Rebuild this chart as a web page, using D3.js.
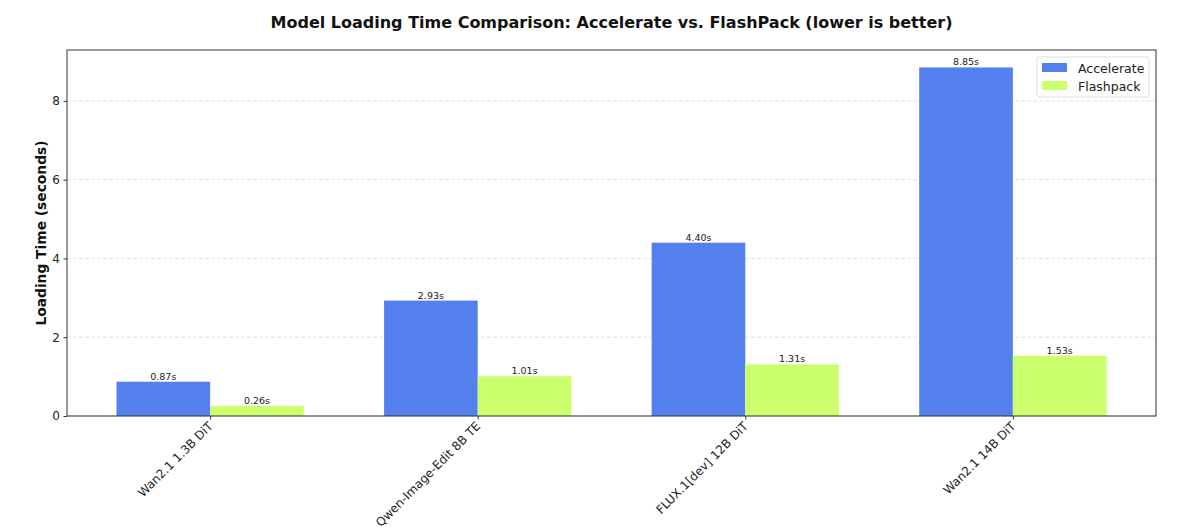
<!DOCTYPE html>
<html>
<head>
<meta charset="utf-8">
<script src="https://cdn.jsdelivr.net/npm/d3@7"></script>
<style>
  body { margin: 0; background: #fff; }
  svg { font-family: "DejaVu Sans", sans-serif; }
</style>
</head>
<body>
<svg id="chart" width="1200" height="532"></svg>
<script>
var models = ["Wan2.1 1.3B DiT", "Qwen-Image-Edit 8B TE", "FLUX.1[dev] 12B DiT", "Wan2.1 14B DiT"];
var accelerateTimes = [0.87, 2.93, 4.40, 8.85];
var flashpackTimes = [0.26, 1.01, 1.31, 1.53];
var yTicks = [0, 2, 4, 6, 8];
var seriesNames = ["Accelerate", "Flashpack"];
var seriesColors = ["#5480ED", "#CCFF6E"];

var margin = { left: 67, right: 44, top: 50, bottom: 116 };
var width = 1200, height = 532;
var plotW = width - margin.left - margin.right;
var plotH = height - margin.top - margin.bottom;
var barW = 0.35;

var svg = d3.select("#chart");

// matplotlib style autoscale: 5% margin on x, top = max * 1.05
var xScale = d3.scaleLinear()
    .domain([-barW - 0.185, models.length - 1 + barW + 0.185])
    .range([0, plotW]);
var yScale = d3.scaleLinear()
    .domain([0, d3.max(accelerateTimes) * 1.05])
    .range([plotH, 0]);

var g = svg.append("g").attr("transform", "translate(" + margin.left + "," + margin.top + ")");

// grid
g.selectAll("line.grid")
    .data(yTicks)
    .enter().append("line")
    .attr("class", "grid")
    .attr("x1", 0).attr("x2", plotW)
    .attr("y1", d => yScale(d)).attr("y2", d => yScale(d))
    .attr("stroke", "#d9d9d9")
    .attr("stroke-width", 0.8)
    .attr("stroke-dasharray", "4,2");

var series = [accelerateTimes, flashpackTimes];
series.forEach(function (vals, si) {
    var offset = si === 0 ? -barW : 0;
    g.selectAll("rect.s" + si)
        .data(vals)
        .enter().append("rect")
        .attr("class", "s" + si)
        .attr("x", (d, i) => xScale(i + offset))
        .attr("width", xScale(barW) - xScale(0))
        .attr("y", d => yScale(d))
        .attr("height", d => plotH - yScale(d))
        .attr("fill", seriesColors[si]);

    g.selectAll("text.v" + si)
        .data(vals)
        .enter().append("text")
        .attr("class", "v" + si)
        .attr("x", (d, i) => xScale(i + offset + barW / 2))
        .attr("y", d => yScale(d) - 2)
        .attr("text-anchor", "middle")
        .attr("font-size", 9.5)
        .attr("fill", "#222")
        .text(d => d.toFixed(2) + "s");
});

// y axis
var yAxis = g.append("g")
    .call(d3.axisLeft(yScale).tickValues(yTicks).tickSize(3.5).tickPadding(3.5));
yAxis.select(".domain").remove();
yAxis.selectAll("text").attr("font-size", 12).attr("fill", "#222").attr("font-family", "DejaVu Sans");
yAxis.selectAll("line").attr("stroke", "#333");

// x axis
var xAxis = g.append("g")
    .attr("transform", "translate(0," + plotH + ")")
    .call(d3.axisBottom(xScale).tickValues(d3.range(models.length)).tickFormat(i => models[i]).tickSize(3.5));
xAxis.select(".domain").remove();
xAxis.selectAll("line").attr("stroke", "#333");
xAxis.selectAll("text")
    .attr("font-size", 12)
    .attr("fill", "#222")
    .attr("font-family", "DejaVu Sans")
    .attr("text-anchor", "end")
    .attr("dy", null)
    .attr("y", 0)
    .attr("transform", "translate(3,11) rotate(-45)");

// frame
g.append("rect")
    .attr("width", plotW).attr("height", plotH)
    .attr("fill", "none")
    .attr("stroke", "#333")
    .attr("stroke-width", 1);

// title
svg.append("text")
    .attr("x", margin.left + plotW / 2)
    .attr("y", 28)
    .attr("text-anchor", "middle")
    .attr("font-size", 16)
    .attr("font-weight", "bold")
    .attr("fill", "#111")
    .text("Model Loading Time Comparison: Accelerate vs. FlashPack (lower is better)");

// y label
svg.append("text")
    .attr("transform", "translate(46," + (margin.top + plotH / 2) + ") rotate(-90)")
    .attr("text-anchor", "middle")
    .attr("font-size", 13.8)
    .attr("font-weight", "bold")
    .attr("fill", "#111")
    .text("Loading Time (seconds)");

// legend
var legend = svg.append("g").attr("transform", "translate(1037,57)");
legend.append("rect")
    .attr("width", 112).attr("height", 40)
    .attr("rx", 2)
    .attr("fill", "#fff")
    .attr("stroke", "#ddd");
seriesNames.forEach(function (name, i) {
    legend.append("rect")
        .attr("x", 5).attr("y", 6 + i * 18)
        .attr("width", 25).attr("height", 9)
        .attr("fill", seriesColors[i]);
    legend.append("text")
        .attr("x", 41).attr("y", 15.5 + i * 18)
        .attr("font-size", 12.5)
        .attr("fill", "#222")
        .text(name);
});
</script>
</body>
</html>
